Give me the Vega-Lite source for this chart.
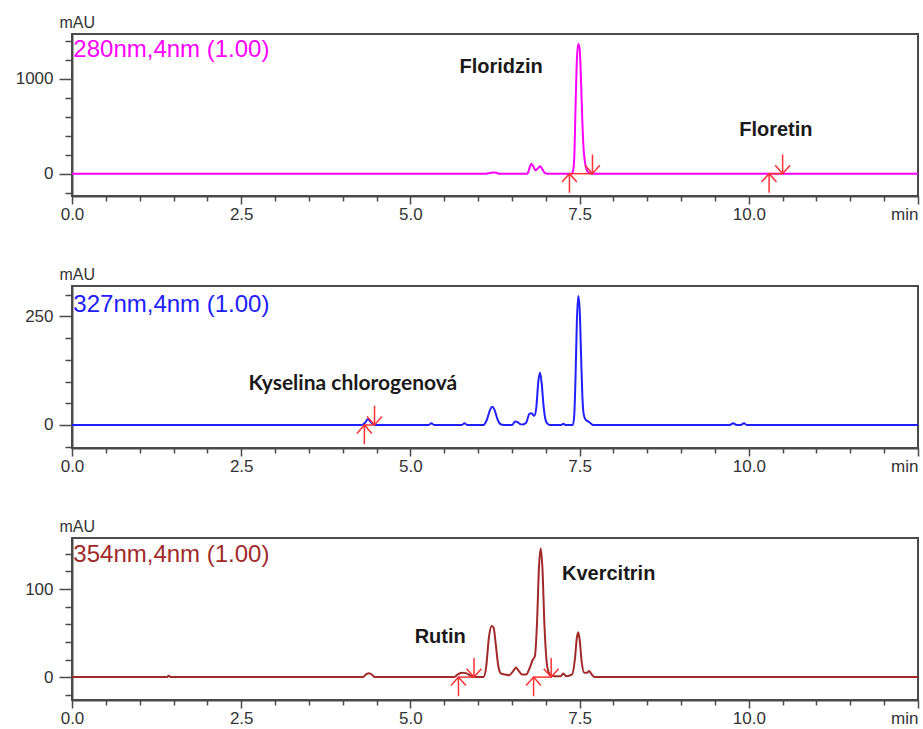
{
  "$schema": "https://vega.github.io/schema/vega-lite/v6.json",
  "background": "white",
  "padding": {"left": 14, "top": 13, "right": 5, "bottom": 4},
  "spacing": 90,
  "bounds": "flush",
  "config": {
    "view": {"stroke": "#4a4a4a", "strokeWidth": 2},
    "axis": {"domainColor": "#4a4a4a", "domainWidth": 2, "tickColor": "#4a4a4a", "tickWidth": 1.5, "labelFont": "Liberation Sans", "labelFontSize": 17, "labelColor": "#333333", "titleFont": "Liberation Sans", "grid": false, "labelOverlap": false, "labelFlush": false}
  },
  "datasets": {
    "trace": [
      {"p":1,"t":0,"v":0},{"p":1,"t":6.12,"v":0},{"p":1,"t":6.17,"v":8},{"p":1,"t":6.22,"v":12},{"p":1,"t":6.27,"v":9},{"p":1,"t":6.31,"v":0},
      {"p":1,"t":6.73,"v":0},{"p":1,"t":6.76,"v":60},{"p":1,"t":6.79,"v":105},{"p":1,"t":6.82,"v":70},{"p":1,"t":6.85,"v":35},{"p":1,"t":6.88,"v":55},{"p":1,"t":6.92,"v":77},{"p":1,"t":6.95,"v":45},{"p":1,"t":6.99,"v":5},{"p":1,"t":7.02,"v":0},
      {"p":1,"t":7.38,"v":0},{"p":1,"t":7.40,"v":20},{"p":1,"t":7.42,"v":150},{"p":1,"t":7.44,"v":700},{"p":1,"t":7.46,"v":1200},{"p":1,"t":7.48,"v":1365},{"p":1,"t":7.50,"v":1320},{"p":1,"t":7.52,"v":1000},{"p":1,"t":7.54,"v":560},{"p":1,"t":7.56,"v":250},{"p":1,"t":7.58,"v":120},{"p":1,"t":7.60,"v":50},{"p":1,"t":7.63,"v":15},{"p":1,"t":7.67,"v":0},{"p":1,"t":12.5,"v":0},

      {"p":2,"t":0,"v":0},{"p":2,"t":4.28,"v":0},{"p":2,"t":4.33,"v":5},{"p":2,"t":4.37,"v":13},{"p":2,"t":4.41,"v":8},{"p":2,"t":4.46,"v":0},
      {"p":2,"t":5.27,"v":0},{"p":2,"t":5.31,"v":4},{"p":2,"t":5.35,"v":0},{"p":2,"t":5.76,"v":0},{"p":2,"t":5.80,"v":4},{"p":2,"t":5.84,"v":0},
      {"p":2,"t":6.08,"v":0},{"p":2,"t":6.13,"v":12},{"p":2,"t":6.18,"v":36},{"p":2,"t":6.21,"v":42},{"p":2,"t":6.24,"v":36},{"p":2,"t":6.29,"v":12},{"p":2,"t":6.34,"v":1},{"p":2,"t":6.38,"v":0},
      {"p":2,"t":6.50,"v":0},{"p":2,"t":6.55,"v":8},{"p":2,"t":6.59,"v":6},{"p":2,"t":6.62,"v":2},{"p":2,"t":6.66,"v":1},{"p":2,"t":6.71,"v":5},{"p":2,"t":6.76,"v":26},{"p":2,"t":6.79,"v":27},{"p":2,"t":6.83,"v":21},{"p":2,"t":6.86,"v":40},{"p":2,"t":6.89,"v":100},{"p":2,"t":6.915,"v":120},{"p":2,"t":6.94,"v":95},{"p":2,"t":6.97,"v":40},{"p":2,"t":7.00,"v":10},{"p":2,"t":7.03,"v":2},{"p":2,"t":7.06,"v":0},
      {"p":2,"t":7.23,"v":0},{"p":2,"t":7.26,"v":3},{"p":2,"t":7.29,"v":0},
      {"p":2,"t":7.40,"v":0},{"p":2,"t":7.42,"v":20},{"p":2,"t":7.44,"v":110},{"p":2,"t":7.46,"v":240},{"p":2,"t":7.48,"v":297},{"p":2,"t":7.50,"v":270},{"p":2,"t":7.52,"v":170},{"p":2,"t":7.54,"v":70},{"p":2,"t":7.56,"v":25},{"p":2,"t":7.59,"v":12},{"p":2,"t":7.63,"v":8},{"p":2,"t":7.67,"v":3},{"p":2,"t":7.70,"v":0},
      {"p":2,"t":9.72,"v":0},{"p":2,"t":9.77,"v":4},{"p":2,"t":9.82,"v":0},{"p":2,"t":9.88,"v":0},{"p":2,"t":9.93,"v":4},{"p":2,"t":9.97,"v":0},{"p":2,"t":12.5,"v":0},

      {"p":3,"t":0,"v":0},{"p":3,"t":1.40,"v":0},{"p":3,"t":1.43,"v":1.5},{"p":3,"t":1.46,"v":0},
      {"p":3,"t":4.30,"v":0},{"p":3,"t":4.35,"v":3.5},{"p":3,"t":4.39,"v":4.5},{"p":3,"t":4.43,"v":3},{"p":3,"t":4.47,"v":0},
      {"p":3,"t":5.64,"v":0},{"p":3,"t":5.70,"v":3},{"p":3,"t":5.76,"v":5},{"p":3,"t":5.82,"v":4.5},{"p":3,"t":5.88,"v":2},{"p":3,"t":5.95,"v":0},
      {"p":3,"t":6.08,"v":0},{"p":3,"t":6.12,"v":12},{"p":3,"t":6.16,"v":45},{"p":3,"t":6.20,"v":58},{"p":3,"t":6.23,"v":56},{"p":3,"t":6.26,"v":38},{"p":3,"t":6.30,"v":12},{"p":3,"t":6.34,"v":4},{"p":3,"t":6.40,"v":3},{"p":3,"t":6.46,"v":2},
      {"p":3,"t":6.52,"v":7},{"p":3,"t":6.56,"v":11},{"p":3,"t":6.60,"v":7},{"p":3,"t":6.65,"v":3},{"p":3,"t":6.71,"v":3},{"p":3,"t":6.76,"v":10},{"p":3,"t":6.81,"v":20},{"p":3,"t":6.84,"v":24},{"p":3,"t":6.87,"v":60},{"p":3,"t":6.90,"v":125},{"p":3,"t":6.925,"v":146},{"p":3,"t":6.95,"v":125},{"p":3,"t":6.98,"v":60},{"p":3,"t":7.01,"v":20},{"p":3,"t":7.04,"v":6},{"p":3,"t":7.08,"v":2},{"p":3,"t":7.13,"v":1},
      {"p":3,"t":7.22,"v":1},{"p":3,"t":7.26,"v":4},{"p":3,"t":7.30,"v":1},{"p":3,"t":7.39,"v":3},{"p":3,"t":7.43,"v":20},{"p":3,"t":7.46,"v":45},{"p":3,"t":7.48,"v":51},{"p":3,"t":7.50,"v":43},{"p":3,"t":7.53,"v":18},{"p":3,"t":7.57,"v":5},{"p":3,"t":7.61,"v":5},{"p":3,"t":7.64,"v":7},{"p":3,"t":7.68,"v":3},{"p":3,"t":7.72,"v":0},{"p":3,"t":12.5,"v":0}
    ],
    "integ": [
      {"p":1,"t":7.35,"t2":7.69,"v":0},
      {"p":1,"t":10.30,"t2":10.50,"v":0},
      {"p":2,"t":4.32,"t2":4.47,"v":0},
      {"p":3,"t":5.71,"t2":5.94,"v":0},
      {"p":3,"t":6.82,"t2":7.08,"v":0}
    ],
    "arrows": [
      {"p":1,"t":7.35,"v":0,"dir":"up"},{"p":1,"t":7.69,"v":0,"dir":"down"},
      {"p":1,"t":10.30,"v":0,"dir":"up"},{"p":1,"t":10.50,"v":0,"dir":"down"},
      {"p":2,"t":4.32,"v":0,"dir":"up"},{"p":2,"t":4.47,"v":0,"dir":"down"},
      {"p":3,"t":5.71,"v":0,"dir":"up"},{"p":3,"t":5.94,"v":0,"dir":"down"},
      {"p":3,"t":6.82,"v":0,"dir":"up"},{"p":3,"t":7.08,"v":0,"dir":"down"}
    ],
    "ann": [
      {"p":1,"t":6.34,"v":1126,"label":"Floridzin"},
      {"p":1,"t":10.40,"v":458,"label":"Floretin"},
      {"p":3,"t":5.44,"v":46,"label":"Rutin"},
      {"p":3,"t":7.93,"v":117,"label":"Kvercitrin"}
    ],
    "ann2": [
      {"p":2,"t":4.15,"v":94,"label":"Kyselina chlorogenová"}
    ],
    "chan": [
      {"p":1,"t":0.02,"v":1425,"label":"280nm,4nm (1.00)"},
      {"p":2,"t":0.02,"v":305,"label":"327nm,4nm (1.00)"},
      {"p":3,"t":0.02,"v":152,"label":"354nm,4nm (1.00)"}
    ]
  },
  "vconcat": [
    {
      "width": 846, "height": 162,
      "encoding": {
        "x": {"field": "t", "type": "quantitative", "scale": {"domain": [0, 12.5], "nice": false, "zero": false},
          "axis": {"title": null, "values": [0,0.5,1,1.5,2,2.5,3,3.5,4,4.5,5,5.5,6,6.5,7,7.5,8,8.5,9,9.5,10,10.5,11,11.5,12,12.5],
            "labelExpr": "datum.value == 12.5 ? 'min' : (datum.value % 2.5 == 0 ? format(datum.value, '.1f') : '')",
            "tickSize": {"condition": {"test": "datum.value % 2.5 == 0", "value": 8}, "value": 5},
            "labelAlign": {"condition": {"test": "datum.value == 12.5", "value": "right"}, "value": "center"},
            "labelPadding": 2}},
        "y": {"field": "v", "type": "quantitative", "scale": {"domain": [-235, 1470], "nice": false, "zero": false},
          "axis": {"title": "mAU", "titleAngle": 0, "titleAlign": "left", "titleBaseline": "alphabetic", "titleX": -13, "titleY": -7, "titleFontSize": 16, "titleFontWeight": "normal", "titleColor": "#333333",
            "values": [-200,0,200,400,600,800,1000,1200,1400], "format": "d",
            "labelExpr": "datum.value == 0 || datum.value == 1000 ? datum.label : ''",
            "tickSize": {"condition": {"test": "datum.value == 0 || datum.value == 1000", "value": 13}, "value": 7},
            "labelPadding": 6}}
      },
      "layer": [
        {"data": {"name": "trace"}, "transform": [{"filter": "datum.p == 1"}], "mark": {"type": "line", "color": "#ff00ff", "strokeWidth": 2, "interpolate": "monotone"}},
        {"data": {"name": "integ"}, "transform": [{"filter": "datum.p == 1"}], "mark": {"type": "rule", "color": "#ff3333", "strokeWidth": 1.5}, "encoding": {"x2": {"field": "t2"}}},
        {"data": {"name": "arrows"}, "transform": [{"filter": "datum.p == 1"}], "mark": {"type": "point", "filled": false, "stroke": "#ff3333", "strokeWidth": 1.5, "size": 576, "opacity": 1},
          "encoding": {"shape": {"field": "dir", "type": "nominal", "scale": {"domain": ["up", "down"], "range": ["M0,0L0,1.6M-0.62,0.7L0,0L0.62,0.7", "M0,0L0,-1.6M-0.62,-0.7L0,0L0.62,-0.7"]}, "legend": null}}},
        {"data": {"name": "ann"}, "transform": [{"filter": "datum.p == 1"}], "mark": {"type": "text", "font": "Liberation Sans", "fontWeight": "bold", "fontSize": 20, "color": "#1a1a1a", "align": "center", "baseline": "middle"}, "encoding": {"text": {"field": "label"}}},
        {"data": {"name": "chan"}, "transform": [{"filter": "datum.p == 1"}], "mark": {"type": "text", "font": "Liberation Sans", "fontSize": 24, "color": "#ff00ff", "align": "left", "baseline": "top"}, "encoding": {"text": {"field": "label"}}}
      ]
    },
    {
      "width": 846, "height": 162,
      "encoding": {
        "x": {"field": "t", "type": "quantitative", "scale": {"domain": [0, 12.5], "nice": false, "zero": false},
          "axis": {"title": null, "values": [0,0.5,1,1.5,2,2.5,3,3.5,4,4.5,5,5.5,6,6.5,7,7.5,8,8.5,9,9.5,10,10.5,11,11.5,12,12.5],
            "labelExpr": "datum.value == 12.5 ? 'min' : (datum.value % 2.5 == 0 ? format(datum.value, '.1f') : '')",
            "tickSize": {"condition": {"test": "datum.value % 2.5 == 0", "value": 8}, "value": 5},
            "labelAlign": {"condition": {"test": "datum.value == 12.5", "value": "right"}, "value": "center"},
            "labelPadding": 2}},
        "y": {"field": "v", "type": "quantitative", "scale": {"domain": [-53, 320], "nice": false, "zero": false},
          "axis": {"title": "mAU", "titleAngle": 0, "titleAlign": "left", "titleBaseline": "alphabetic", "titleX": -13, "titleY": -7, "titleFontSize": 16, "titleFontWeight": "normal", "titleColor": "#333333",
            "values": [-50,0,50,100,150,200,250,300], "format": "d",
            "labelExpr": "datum.value == 0 || datum.value == 250 ? datum.label : ''",
            "tickSize": {"condition": {"test": "datum.value == 0 || datum.value == 250", "value": 13}, "value": 7},
            "labelPadding": 6}}
      },
      "layer": [
        {"data": {"name": "trace"}, "transform": [{"filter": "datum.p == 2"}], "mark": {"type": "line", "color": "#2020ff", "strokeWidth": 2, "interpolate": "monotone"}},
        {"data": {"name": "integ"}, "transform": [{"filter": "datum.p == 2"}], "mark": {"type": "rule", "color": "#ff3333", "strokeWidth": 1.5}, "encoding": {"x2": {"field": "t2"}}},
        {"data": {"name": "arrows"}, "transform": [{"filter": "datum.p == 2"}], "mark": {"type": "point", "filled": false, "stroke": "#ff3333", "strokeWidth": 1.5, "size": 576, "opacity": 1},
          "encoding": {"shape": {"field": "dir", "type": "nominal", "scale": {"domain": ["up", "down"], "range": ["M0,0L0,1.6M-0.62,0.7L0,0L0.62,0.7", "M0,0L0,-1.6M-0.62,-0.7L0,0L0.62,-0.7"]}, "legend": null}}},
        {"data": {"name": "ann2"}, "mark": {"type": "text", "font": "Lato", "fontWeight": "bold", "fontSize": 21, "color": "#1a1a1a", "align": "center", "baseline": "middle"}, "encoding": {"text": {"field": "label"}}},
        {"data": {"name": "chan"}, "transform": [{"filter": "datum.p == 2"}], "mark": {"type": "text", "font": "Liberation Sans", "fontSize": 24, "color": "#2020ff", "align": "left", "baseline": "top"}, "encoding": {"text": {"field": "label"}}}
      ]
    },
    {
      "width": 846, "height": 162,
      "encoding": {
        "x": {"field": "t", "type": "quantitative", "scale": {"domain": [0, 12.5], "nice": false, "zero": false},
          "axis": {"title": null, "values": [0,0.5,1,1.5,2,2.5,3,3.5,4,4.5,5,5.5,6,6.5,7,7.5,8,8.5,9,9.5,10,10.5,11,11.5,12,12.5],
            "labelExpr": "datum.value == 12.5 ? 'min' : (datum.value % 2.5 == 0 ? format(datum.value, '.1f') : '')",
            "tickSize": {"condition": {"test": "datum.value % 2.5 == 0", "value": 8}, "value": 5},
            "labelAlign": {"condition": {"test": "datum.value == 12.5", "value": "right"}, "value": "center"},
            "labelPadding": 2}},
        "y": {"field": "v", "type": "quantitative", "scale": {"domain": [-26, 158], "nice": false, "zero": false},
          "axis": {"title": "mAU", "titleAngle": 0, "titleAlign": "left", "titleBaseline": "alphabetic", "titleX": -13, "titleY": -7, "titleFontSize": 16, "titleFontWeight": "normal", "titleColor": "#333333",
            "values": [-20,0,20,40,60,80,100,120,140], "format": "d",
            "labelExpr": "datum.value == 0 || datum.value == 100 ? datum.label : ''",
            "tickSize": {"condition": {"test": "datum.value == 0 || datum.value == 100", "value": 13}, "value": 7},
            "labelPadding": 6}}
      },
      "layer": [
        {"data": {"name": "trace"}, "transform": [{"filter": "datum.p == 3"}], "mark": {"type": "line", "color": "#a02a2a", "strokeWidth": 2, "interpolate": "monotone"}},
        {"data": {"name": "integ"}, "transform": [{"filter": "datum.p == 3"}], "mark": {"type": "rule", "color": "#ff3333", "strokeWidth": 1.5}, "encoding": {"x2": {"field": "t2"}}},
        {"data": {"name": "arrows"}, "transform": [{"filter": "datum.p == 3"}], "mark": {"type": "point", "filled": false, "stroke": "#ff3333", "strokeWidth": 1.5, "size": 576, "opacity": 1},
          "encoding": {"shape": {"field": "dir", "type": "nominal", "scale": {"domain": ["up", "down"], "range": ["M0,0L0,1.6M-0.62,0.7L0,0L0.62,0.7", "M0,0L0,-1.6M-0.62,-0.7L0,0L0.62,-0.7"]}, "legend": null}}},
        {"data": {"name": "ann"}, "transform": [{"filter": "datum.p == 3"}], "mark": {"type": "text", "font": "Liberation Sans", "fontWeight": "bold", "fontSize": 20, "color": "#1a1a1a", "align": "center", "baseline": "middle"}, "encoding": {"text": {"field": "label"}}},
        {"data": {"name": "chan"}, "transform": [{"filter": "datum.p == 3"}], "mark": {"type": "text", "font": "Liberation Sans", "fontSize": 24, "color": "#a02a2a", "align": "left", "baseline": "top"}, "encoding": {"text": {"field": "label"}}}
      ]
    }
  ]
}
